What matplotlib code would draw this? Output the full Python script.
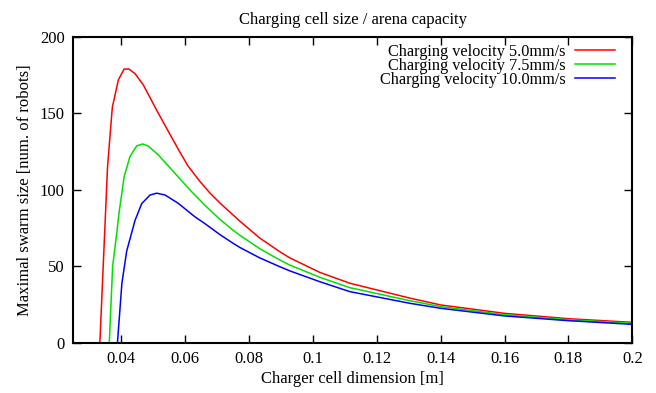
import matplotlib
matplotlib.use("Agg")
import matplotlib.pyplot as plt

plt.rcParams['font.family'] = ['Liberation Serif', 'DejaVu Serif']

title = "Charging cell size / arena capacity"
xlabel = "Charger cell dimension [m]"
ylabel = "Maximal swarm size [num. of robots]"

x_red = [0.0334, 0.0348, 0.0358, 0.0373, 0.0392, 0.0410, 0.0425, 0.0444, 0.0470, 0.0512,
         0.0558, 0.0584, 0.0610, 0.0647, 0.0678, 0.0709, 0.0751, 0.0772, 0.0834, 0.0897,
         0.0928, 0.1022, 0.1116, 0.1303, 0.14, 0.16, 0.18, 0.2]
y_red = [0, 67, 115, 154, 172, 179, 179, 176, 168.6, 152,
         134.5, 124.8, 115.5, 105.5, 98, 91.5, 83.5, 79.5, 68.5, 59.5,
         55.5, 46, 38.9, 29.2, 24.7, 19.2, 15.7, 13.3]

x_green = [0.03635, 0.0374, 0.0387, 0.0394, 0.0410, 0.0428, 0.0449, 0.0468, 0.0485, 0.0517,
           0.0569, 0.0584, 0.0621, 0.0662, 0.0709, 0.0751, 0.0772, 0.0834, 0.0897, 0.0928,
           0.1022, 0.1116, 0.1303, 0.14, 0.16, 0.18, 0.2]
y_green = [0, 50, 72, 85, 108.6, 121.7, 128.7, 130, 128.7, 122.8,
           110.8, 107.3, 98.8, 90, 80.8, 73.5, 70.3, 61.5, 54.1, 50.8,
           42.8, 36, 27.5, 23.6, 18.3, 15, 12.7]

x_blue = [0.0389, 0.0403, 0.0418, 0.0431, 0.0444, 0.0465, 0.0491, 0.0512, 0.0538, 0.0579,
          0.0631, 0.0662, 0.0709, 0.0751, 0.0772, 0.0834, 0.0897, 0.0928, 0.1022, 0.1116,
          0.1303, 0.14, 0.16, 0.18, 0.2]
y_blue = [0, 39, 60, 70, 80, 91, 96.6, 97.8, 96.6, 91.2,
          82.4, 78, 70.8, 65, 62.3, 55.5, 49.7, 47, 39.9, 33.4,
          25.8, 22.5, 17.5, 14.4, 12]

labels = ["Charging velocity 5.0mm/s", "Charging velocity 7.5mm/s", "Charging velocity 10.0mm/s"]
colors = ["#ff0000", "#00e000", "#0000ff"]

xticks = [0.04, 0.06, 0.08, 0.1, 0.12, 0.14, 0.16, 0.18, 0.2]
xticklabels = ["0.04", "0.06", "0.08", "0.1", "0.12", "0.14", "0.16", "0.18", "0.2"]
yticks = [0, 50, 100, 150, 200]

fig = plt.figure(figsize=(6.56, 3.93), dpi=100)
ax = fig.add_axes([0.1113, 0.128, 0.8527, 0.778])

for xs, ys, lab, c in zip([x_red, x_green, x_blue], [y_red, y_green, y_blue], labels, colors):
    ax.plot(xs, ys, color=c, lw=1.1, label=lab)

ax.set_xlim(0.025, 0.2)
ax.set_ylim(0, 200)
ax.set_xticks(xticks)
ax.set_xticklabels(xticklabels)
ax.set_yticks(yticks)
ax.tick_params(direction='in', top=True, right=True, length=6, width=1, labelsize=12, pad=6)
for s in ax.spines.values():
    s.set_linewidth(1.5)

ax.set_title(title, fontsize=12, pad=9)
ax.set_xlabel(xlabel, fontsize=12, labelpad=3)
ax.set_ylabel(ylabel, fontsize=12, labelpad=5)

leg = ax.legend(loc='upper right', frameon=False, markerfirst=False, fontsize=11.7,
                handlelength=2.46, labelspacing=-0.12, handletextpad=0.6,
                borderaxespad=0.3, bbox_to_anchor=(0.99, 1.015))
for t in leg.get_texts():
    t.set_ha('right')

fig.savefig("out.png", dpi=100)
